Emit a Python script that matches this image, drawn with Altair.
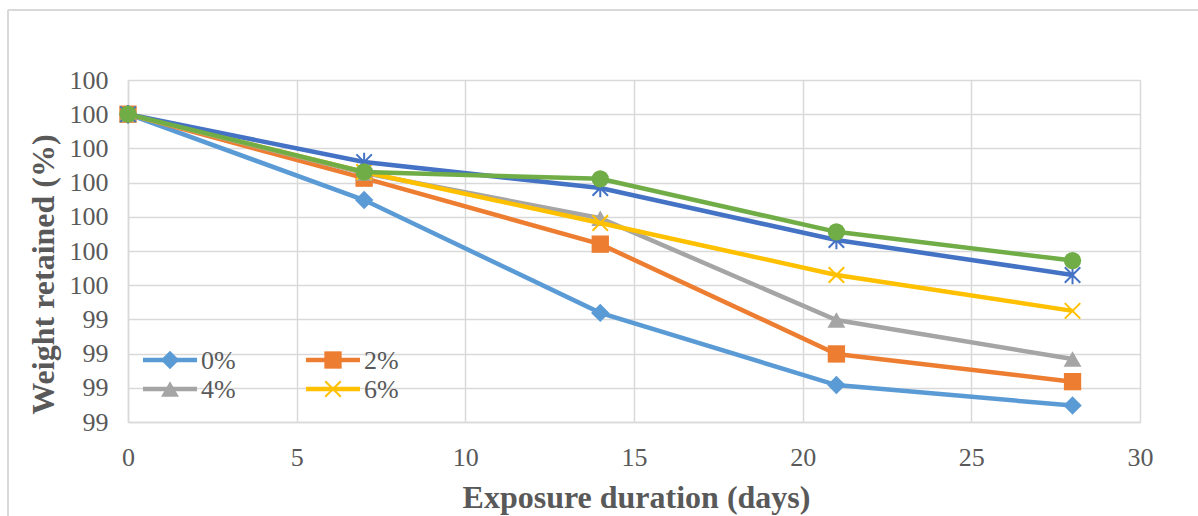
import altair as alt
import pandas as pd

days = [0, 7, 14, 21, 28]
series = ["0%", "2%", "4%", "6%", "8%", "10%"]
colors = ["#5B9BD5", "#ED7D31", "#A5A5A5", "#FFC000", "#4472C4", "#70AD47"]
shapes = ["diamond", "square", "triangle-up",
          "M-1,-1L1,1M-1,1L1,-1",
          "M-1,-1L1,1M-1,1L1,-1M0,-1.2L0,1.2",
          "circle"]
filled = [True, True, True, False, False, True]
sizes = [340, 300, 320, 240, 240, 300]

v0 = [100.0, 99.749, 99.419, 99.208, 99.148]
v2 = [100.0, 99.813, 99.620, 99.299, 99.218]
v4 = [100.0, 99.828, 99.696, 99.398, 99.284]
v6 = [100.0, 99.831, 99.682, 99.530, 99.425]
v8 = [100.0, 99.860, 99.784, 99.632, 99.530]
v10 = [100.0, 99.831, 99.811, 99.656, 99.572]
values = [v0, v2, v4, v6, v8, v10]

y_ticks = [99.1, 99.2, 99.3, 99.4, 99.5, 99.6, 99.7, 99.8, 99.9, 100.0, 100.1]
x_ticks = [0, 5, 10, 15, 20, 25, 30]

legend_items = ["0%", "2%", "4%", "6%"]

rows = []
for s, vals in zip(series, values):
    for d, v in zip(days, vals):
        rows.append({"series": s, "day": d, "value": v})
df = pd.DataFrame(rows)

FONT = "Times New Roman, Liberation Serif, serif"
GRID = "#D9D9D9"
TXT = "#595959"
W, H = 1012, 342

x_enc = alt.X("day:Q", scale=alt.Scale(domain=[0, 30], nice=False),
              axis=alt.Axis(values=x_ticks, title="Exposure duration (days)",
                            grid=True, gridColor=GRID, gridWidth=1.5,
                            domain=True, domainColor=GRID, domainWidth=1.5,
                            ticks=False, labelPadding=22, labelFontSize=26,
                            labelFont=FONT, labelColor=TXT, labelOverlap=False,
                            labelFlush=False,
                            titleFont=FONT, titleFontSize=32, titleFontWeight="bold",
                            titleColor=TXT, titleX=508, titleY=75,
                            titleBaseline="middle", titleAlign="center"))
y_enc = alt.Y("value:Q", scale=alt.Scale(domain=[99.1, 100.1], nice=False, zero=False),
              axis=alt.Axis(values=y_ticks, format=".0f", title="Weight retained (%)",
                            grid=True, gridColor=GRID, gridWidth=1.5,
                            domain=True, domainColor=GRID, domainWidth=1.5,
                            ticks=False, labelPadding=20, labelFontSize=26,
                            labelFont=FONT, labelColor=TXT, labelOverlap=False,
                            labelBaseline="middle", labelFlush=False,
                            titleFont=FONT, titleFontSize=32, titleFontWeight="bold",
                            titleColor=TXT, titleX=-85, titleY=194, titleAngle=-90,
                            titleBaseline="middle", titleAlign="center"))

base = alt.Chart(df)
layers = []

for s, c, sh, f, sz in zip(series, colors, shapes, filled, sizes):
    sub = base.transform_filter(alt.datum.series == s)
    layers.append(sub.mark_line(color=c, strokeWidth=4.5).encode(x=x_enc, y=y_enc))
    if f:
        pt = sub.mark_point(shape=sh, filled=True, fill=c, stroke=None, size=sz, opacity=1)
    else:
        pt = sub.mark_point(shape=sh, filled=False, stroke=c, strokeWidth=2, size=sz, opacity=1)
    layers.append(pt.encode(x=x_enc, y=y_enc))

# legend (decoration, pixel positions)
leg_pos = [(15, 280), (178, 280), (15, 309), (178, 309)]
for (lx, ly), name in zip(leg_pos, legend_items):
    i = series.index(name)
    c = colors[i]
    one = alt.Chart(pd.DataFrame({"label": [name]}))
    layers.append(one.mark_rule(color=c, strokeWidth=4.5).encode(
        x=alt.value(lx), x2=alt.value(lx + 54), y=alt.value(ly)))
    if filled[i]:
        pm = one.mark_point(shape=shapes[i], filled=True, fill=c, stroke=None,
                            size=sizes[i], opacity=1)
    else:
        pm = one.mark_point(shape=shapes[i], filled=False, stroke=c, strokeWidth=2,
                            size=sizes[i], opacity=1)
    layers.append(pm.encode(x=alt.value(lx + 27), y=alt.value(ly)))
    layers.append(one.mark_text(font=FONT, fontSize=26, color=TXT, align="left",
                                baseline="middle").encode(
        x=alt.value(lx + 58), y=alt.value(ly + 1), text="label:N"))

# outer chart frame (top and left edges visible)
frame = alt.Chart(pd.DataFrame({"k": [0]}))
layers.append(frame.mark_rule(color=GRID, strokeWidth=2).encode(
    x=alt.value(-120), x2=alt.value(1070), y=alt.value(-70)))
layers.append(frame.mark_rule(color=GRID, strokeWidth=2).encode(
    x=alt.value(-120), y=alt.value(-70), y2=alt.value(436)))

chart = alt.layer(*layers).properties(
    width=W, height=H,
    autosize=alt.AutoSizeParams(type="none"),
    padding={"left": 128, "top": 80, "right": 58, "bottom": 94},
).configure_view(stroke=None).configure(background="white")

chart.save("out.html", embed_options={"renderer": "svg", "actions": False})
